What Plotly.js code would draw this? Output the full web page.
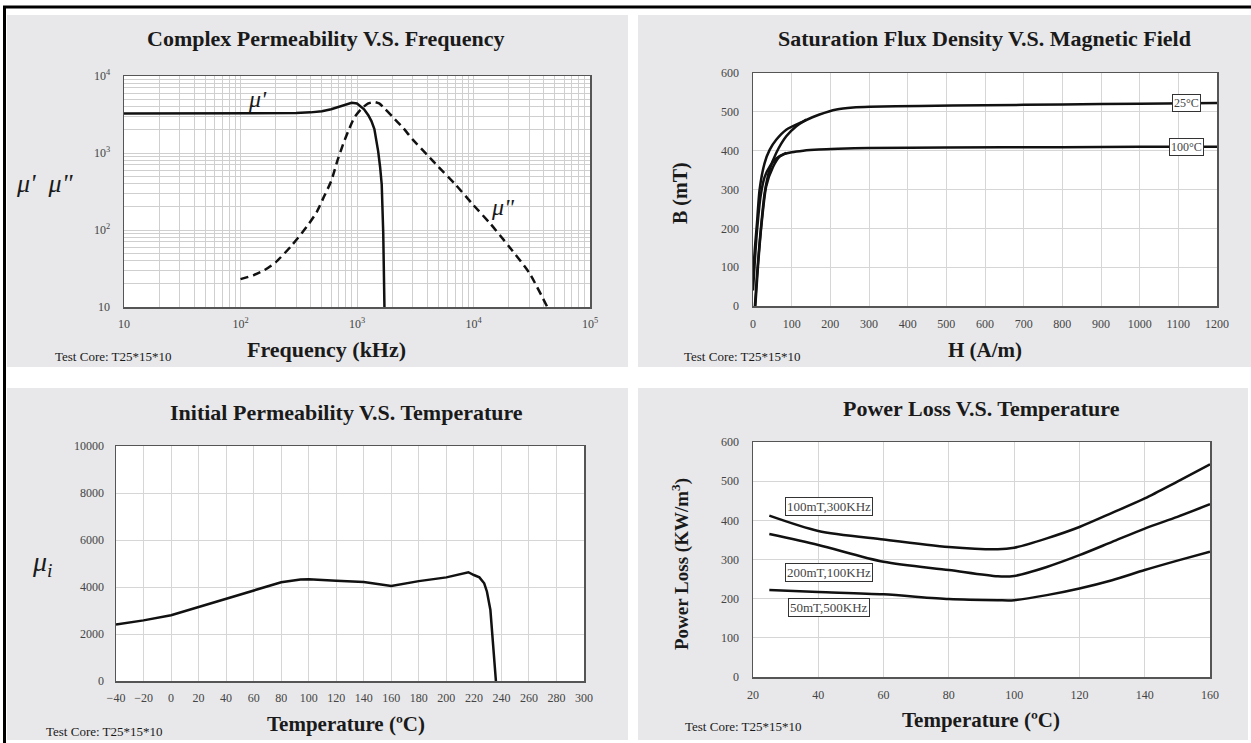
<!DOCTYPE html>
<html>
<head>
<meta charset="utf-8">
<script src="https://cdn.plot.ly/plotly-3.0.1.min.js"></script>
<style>html,body{margin:0;padding:0;background:#fff;}#chart{width:1251px;height:743px;}</style>
</head>
<body>
<div id="chart"></div>
<script>
// ---------- Data ----------
// Panel 1: complex permeability vs frequency (kHz)
const freqReal = [10, 50, 100, 200, 300, 400, 500, 600, 700, 800, 900, 1000, 1070, 1150, 1250, 1330, 1410, 1470, 1520, 1580, 1630, 1680, 1720];
const muReal   = [3250, 3250, 3250, 3260, 3300, 3370, 3480, 3700, 4000, 4300, 4480, 4400, 4100, 3700, 3100, 2600, 2050, 1500, 1050, 650, 390, 90, 10];
const freqImag = [100, 130, 160, 200, 270, 370, 450, 520, 600, 680, 760, 850, 950, 1100, 1250, 1400, 1550, 1750, 2000, 2500, 3000, 4000, 5000, 7000, 10000, 14000, 20000, 30000, 43000];
const muImag   = [23, 26, 30, 38, 61, 110, 170, 270, 430, 800, 1300, 2000, 2900, 3800, 4400, 4600, 4400, 3700, 3000, 2100, 1500, 950, 660, 390, 210, 120, 62, 28, 10];
const freqDecades = [10, 100, 1000, 10000, 100000];
const freqDecadeText = ['10', '10<sup>2</sup>', '10<sup>3</sup>', '10<sup>4</sup>', '10<sup>5</sup>'];
const muDecades = [10, 100, 1000, 10000];
const muDecadeText = ['10', '10<sup>2</sup>', '10<sup>3</sup>', '10<sup>4</sup>'];

// Panel 2: B-H curves
const H25a = [0, 5, 10, 17, 30, 43, 60, 86, 129, 172, 216, 259, 302, 431, 600, 800, 1000, 1200];
const B25a = [80, 150, 210, 299, 368, 402, 428, 454, 475, 493, 506, 511, 513, 515, 517, 519, 521, 523];
const H25b = [5, 10, 17, 30, 43, 60, 86, 112, 138];
const B25b = [0, 75, 162, 290, 351, 394, 437, 463, 480];
const H100a = [0, 5, 10, 20, 30, 45, 60, 80, 100, 130, 170, 220, 300, 500, 800, 1000, 1200];
const B100a = [40, 120, 190, 285, 332, 362, 380, 391, 396, 400, 403, 405, 407, 408, 409, 410, 410];
const H100b = [6, 12, 21.5, 34, 52, 69, 86];
const B100b = [0, 90, 205, 308, 359, 385, 394];
const bhLabels = ['25°C', '100°C'];
const bhLabelH = [1122, 1122];
const bhLabelB = [523, 410];

// Panel 3: initial permeability vs temperature
const tempMu = [-40, -20, 0, 20, 40, 60, 80, 94, 100, 120, 140, 160, 180, 200, 210, 216, 220, 224, 227.5, 229.5, 232, 233.5, 235, 236];
const muInit = [2400, 2580, 2800, 3150, 3500, 3870, 4200, 4320, 4330, 4270, 4210, 4040, 4250, 4410, 4530, 4630, 4510, 4410, 4160, 3800, 3020, 1890, 470, 0];

// Panel 4: power loss vs temperature
const tempPL = [25, 40, 60, 80, 95, 100, 110, 120, 130, 140, 150, 160];
const pl100mT300k = [412, 373, 351, 332, 326, 330, 354, 383, 419, 456, 499, 543];
const pl200mT100k = [365, 337, 294, 273, 257, 258, 281, 311, 345, 379, 409, 441];
const pl50mT500k  = [222, 217, 211, 199, 196, 196, 209, 226, 247, 273, 297, 320];
const plLabels = ['100mT,300KHz', '200mT,100KHz', '50mT,500KHz'];
const plLabelT = [43.3, 43.4, 43.4];
const plLabelV = [436, 267, 177];

// ---------- Layout helpers ----------
const W = 1251, Hh = 743;
const px = x => x / W;
const py = y => 1 - y / Hh;
const SERIF = 'Liberation Serif, Times New Roman, serif';
const LINE = '#111';
const GRID = '#d6d6d6';
const PANEL = '#e8e8ea';

// minor log grid positions (2..9 within each decade)
function logMinor(decades) {
  const vals = [];
  for (let i = 0; i < decades.length - 1; i++) {
    for (let k = 2; k <= 9; k++) vals.push(decades[i] * k);
  }
  return vals;
}

const tickFont = {family: SERIF, size: 12, color: '#444'};
function baseAxis(extra) {
  return Object.assign({
    showline: true, linecolor: '#555', linewidth: 1.5, mirror: true,
    showgrid: true, gridcolor: GRID, gridwidth: 1, zeroline: false,
    ticks: '', tickfont: tickFont, fixedrange: true
  }, extra);
}

const traces = [
  {x: freqReal, y: muReal, xaxis: 'x', yaxis: 'y', mode: 'lines', line: {color: LINE, width: 2.5}, name: "μ'"},
  {x: freqImag, y: muImag, xaxis: 'x', yaxis: 'y', mode: 'lines', line: {color: LINE, width: 2.5, dash: '8px,5px', shape: 'spline', smoothing: 0.6}, name: 'μ"'},
  {x: H25a, y: B25a, xaxis: 'x2', yaxis: 'y2', mode: 'lines', line: {color: LINE, width: 2.5, shape: 'spline', smoothing: 0.6}, name: '25°C'},
  {x: H25b, y: B25b, xaxis: 'x2', yaxis: 'y2', mode: 'lines', line: {color: LINE, width: 2.5, shape: 'spline', smoothing: 0.6}, name: '25°C'},
  {x: H100a, y: B100a, xaxis: 'x2', yaxis: 'y2', mode: 'lines', line: {color: LINE, width: 2.5, shape: 'spline', smoothing: 0.6}, name: '100°C'},
  {x: H100b, y: B100b, xaxis: 'x2', yaxis: 'y2', mode: 'lines', line: {color: LINE, width: 2.5, shape: 'spline', smoothing: 0.6}, name: '100°C'},
  {x: tempMu, y: muInit, xaxis: 'x3', yaxis: 'y3', mode: 'lines', line: {color: LINE, width: 2.5}, name: 'μi'},
  {x: tempPL, y: pl100mT300k, xaxis: 'x4', yaxis: 'y4', mode: 'lines', line: {color: LINE, width: 2.5, shape: 'spline', smoothing: 0.8}, name: plLabels[0]},
  {x: tempPL, y: pl200mT100k, xaxis: 'x4', yaxis: 'y4', mode: 'lines', line: {color: LINE, width: 2.5, shape: 'spline', smoothing: 0.8}, name: plLabels[1]},
  {x: tempPL, y: pl50mT500k, xaxis: 'x4', yaxis: 'y4', mode: 'lines', line: {color: LINE, width: 2.5, shape: 'spline', smoothing: 0.8}, name: plLabels[2]}
];

const annotations = [];
function txt(x, y, text, size, opts) {
  annotations.push(Object.assign({
    xref: 'paper', yref: 'paper', x: px(x), y: py(y), text: text, showarrow: false,
    xanchor: 'center', yanchor: 'middle', font: {family: SERIF, size: size, color: '#1a1a1a'}
  }, opts || {}));
}
// Panel titles
txt(325, 39, '<b>Complex Permeability V.S. Frequency</b>', 22);
txt(985, 39, '<b>Saturation Flux Density V.S. Magnetic Field</b>', 22);
txt(346, 412, '<b>Initial Permeability V.S. Temperature</b>', 22);
txt(981, 408, '<b>Power Loss V.S. Temperature</b>', 22);
// Axis titles
txt(326, 349, '<b>Frequency (kHz)</b>', 22);
txt(985, 350, '<b>H (A/m)</b>', 21);
txt(346, 724, '<b>Temperature (ºC)</b>', 21);
txt(981, 720, '<b>Temperature (ºC)</b>', 21);
txt(44, 183, "<i>μ'  μ\"</i>", 26);
txt(680, 193, '<b>B (mT)</b>', 20, {textangle: -90});
txt(42, 563, '<i>μ<sub>i</sub></i>', 28);
txt(680, 564, '<b>Power Loss (KW/m<sup>3</sup>)</b>', 19, {textangle: -90});
// Test core notes
txt(53, 356, 'Test Core: T25*15*10', 13, {xanchor: 'left'});
txt(682, 357, 'Test Core: T25*15*10', 13, {xanchor: 'left'});
txt(44, 731, 'Test Core: T25*15*10', 13, {xanchor: 'left'});
txt(683, 726, 'Test Core: T25*15*10', 13, {xanchor: 'left'});
// Curve labels panel 1
txt(257, 99, "<i>μ'</i>", 24);
txt(503, 207, '<i>μ"</i>', 24);
// Boxed labels panel 2
bhLabels.forEach((t, i) => annotations.push({
  xref: 'x2', yref: 'y2', x: bhLabelH[i], y: bhLabelB[i], text: t, showarrow: false,
  bgcolor: '#fff', bordercolor: '#333', borderwidth: 1, borderpad: 1,
  font: {family: SERIF, size: 12, color: '#444'}
}));
// Boxed labels panel 4
plLabels.forEach((t, i) => annotations.push({
  xref: 'x4', yref: 'y4', x: plLabelT[i], y: plLabelV[i], text: t, showarrow: false,
  bgcolor: '#fff', bordercolor: '#333', borderwidth: 1, borderpad: 1,
  font: {family: SERIF, size: 13, color: '#444'}
}));

const shapes = [
  // panel backgrounds
  {type: 'rect', xref: 'paper', yref: 'paper', x0: px(7), x1: px(628), y0: py(15), y1: py(367), fillcolor: PANEL, line: {width: 0}, layer: 'below'},
  {type: 'rect', xref: 'paper', yref: 'paper', x0: px(638), x1: px(1251), y0: py(15), y1: py(367), fillcolor: PANEL, line: {width: 0}, layer: 'below'},
  {type: 'rect', xref: 'paper', yref: 'paper', x0: px(7), x1: px(628), y0: py(388), y1: py(740), fillcolor: PANEL, line: {width: 0}, layer: 'below'},
  {type: 'rect', xref: 'paper', yref: 'paper', x0: px(638), x1: px(1248), y0: py(388), y1: py(740), fillcolor: PANEL, line: {width: 0}, layer: 'below'},
  // outer black border (top and left)
  {type: 'line', xref: 'paper', yref: 'paper', x0: px(3), x1: px(1251), y0: py(7), y1: py(7), line: {color: '#000', width: 3}},
  {type: 'line', xref: 'paper', yref: 'paper', x0: px(4.5), x1: px(4.5), y0: py(6), y1: py(743), line: {color: '#000', width: 3}}
];
// white plot areas (drawn under grid)
['', '2', '3', '4'].forEach(s => shapes.push({
  type: 'rect', xref: 'x' + s + ' domain', yref: 'y' + s + ' domain', x0: 0, x1: 1, y0: 0, y1: 1,
  fillcolor: '#fff', line: {width: 0}, layer: 'below'
}));

const layout = {
  width: W, height: Hh,
  margin: {l: 0, r: 0, t: 0, b: 0},
  paper_bgcolor: '#fff', plot_bgcolor: '#fff',
  showlegend: false,
  font: {family: SERIF},
  xaxis: baseAxis({domain: [px(124), px(590)], anchor: 'y', type: 'log', range: [1, 5],
    tickmode: 'array', tickvals: freqDecades, ticktext: freqDecadeText, ticklabelstandoff: 5, gridcolor: '#cfcfcf',
    minor: {tickmode: 'array', tickvals: logMinor(freqDecades), showgrid: true, gridcolor: '#cfcfcf', gridwidth: 1, ticks: ''}}),
  yaxis: baseAxis({domain: [py(307), py(76)], anchor: 'x', type: 'log', range: [1, 4],
    tickmode: 'array', tickvals: muDecades, ticktext: muDecadeText, ticklabelstandoff: 10, gridcolor: '#cfcfcf',
    minor: {tickmode: 'array', tickvals: logMinor(muDecades), showgrid: true, gridcolor: '#cfcfcf', gridwidth: 1, ticks: ''}}),
  xaxis2: baseAxis({domain: [px(753), px(1217)], anchor: 'y2', range: [0, 1200], dtick: 100, ticklabelstandoff: 6}),
  yaxis2: baseAxis({domain: [py(306), py(73)], anchor: 'x2', range: [0, 600], dtick: 100, ticklabelstandoff: 10}),
  xaxis3: baseAxis({domain: [px(116), px(584)], anchor: 'y3', range: [-40, 300], dtick: 20, ticklabelstandoff: 5}),
  yaxis3: baseAxis({domain: [py(681), py(446)], anchor: 'x3', range: [0, 10000], dtick: 2000, tickformat: 'd', ticklabelstandoff: 8}),
  xaxis4: baseAxis({domain: [px(753), px(1210)], anchor: 'y4', range: [20, 160], dtick: 20, ticklabelstandoff: 6}),
  yaxis4: baseAxis({domain: [py(677), py(442)], anchor: 'x4', range: [0, 600], dtick: 100, ticklabelstandoff: 10}),
  annotations: annotations,
  shapes: shapes
};

Plotly.newPlot('chart', traces, layout, {displayModeBar: false, staticPlot: true});
</script>
</body>
</html>
